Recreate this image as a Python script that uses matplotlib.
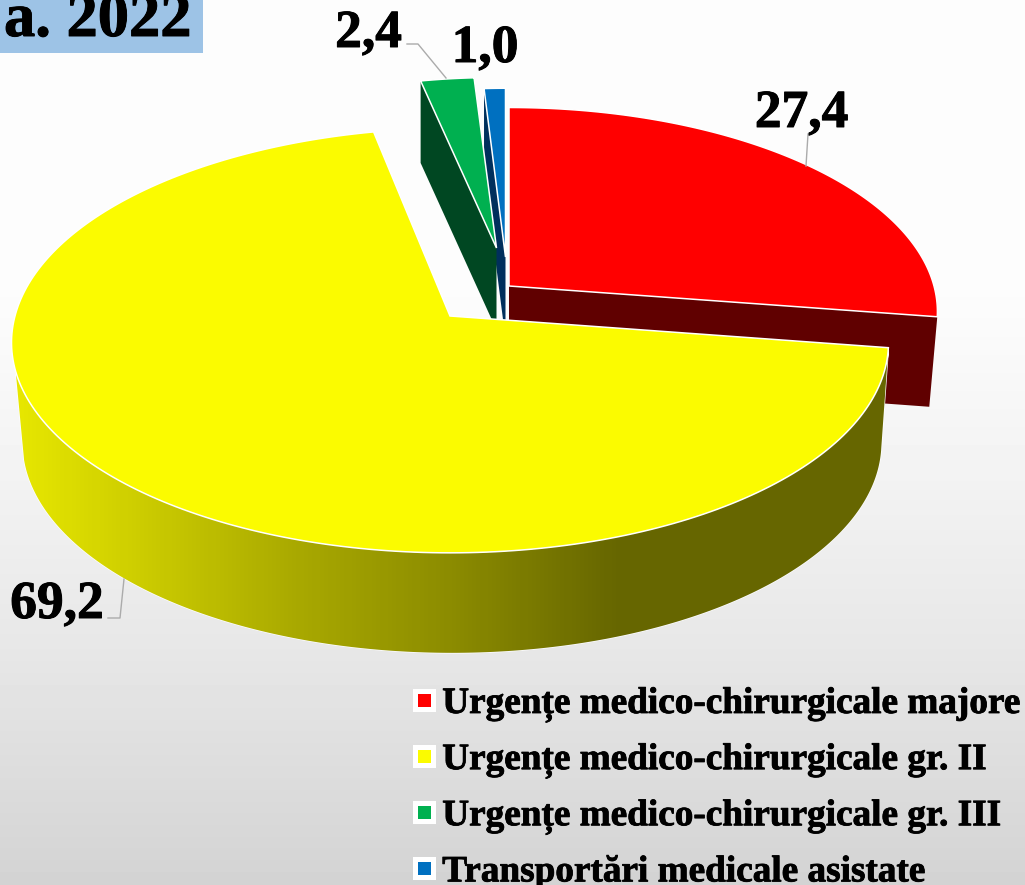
import numpy as np
import matplotlib
matplotlib.use("Agg")
import matplotlib.pyplot as plt
import matplotlib.patheffects as pe
from matplotlib.colors import LinearSegmentedColormap
from matplotlib.lines import Line2D
from matplotlib.patches import Polygon, Rectangle

plt.rcParams['font.family'] = ['Liberation Serif', 'DejaVu Serif']

categories = ["Urgențe medico-chirurgicale majore", "Urgențe medico-chirurgicale gr. II",
              "Urgențe medico-chirurgicale gr. III", "Transportări medicale asistate"]
values = [27.4, 69.2, 2.4, 1.0]
top_colors = ["#FF0000", "#FBFB00", "#00B050", "#0070C0"]
side_colors = ["#600000", "#666600", "#004722", "#002F5C"]
title = "a. 2022"

W, H = 1025, 885
fig = plt.figure(figsize=(W / 100, H / 100), dpi=100)
ax = fig.add_axes([0, 0, 1, 1])

# background
by = np.array([0, 300, 500, 650, 885])
bv = np.array([253, 252, 241, 231, 211]) / 255
grad = np.interp(np.arange(H), by, bv)[:, None]
ax.imshow(grad, cmap="gray", vmin=0, vmax=1, extent=[0, W, H, 0], aspect="auto", zorder=0)

# slice angles from the values (clockwise from 12 o'clock)
cum = np.cumsum([0] + values)
angles = 90 - cum * 3.6
K = 0.126


def ring(t0, t1, apex, R, c, n=240, up=1.0, skew=0.0):
    t = np.radians(np.linspace(t0, t1, n))
    x, y = np.cos(t), np.sin(t)
    w = 1 + K * y
    yy = np.where(y > 0, y * up, y)
    xs = np.where(y > 0, skew * y ** 2, 0.0)
    return np.column_stack([apex[0] + R * x / w + xs, apex[1] - c * yy / w])


def top_face(i, apex, R, c, z, **kw):
    pts = np.vstack([[apex], ring(angles[i], angles[i + 1], apex, R, c, **kw)])
    ax.add_patch(Polygon(pts, closed=True, fc=top_colors[i], ec="white", lw=1.1, zorder=z))
    return pts


def cut_face(p, apex, color, depth, z, shrink=0):
    q = np.array([p, apex, (apex[0], apex[1] + depth), (p[0] - shrink, p[1] + depth)])
    ax.add_patch(Polygon(q, closed=True, fc=color, ec="none", zorder=z))


# blue
a3 = (505.5, 257)
pb = ring(angles[3], angles[4], a3, 385, 190)
cut_face(pb[0], a3, side_colors[3], 82, 2)
top_face(3, a3, 385, 190, 3)
# green
a2 = (496.5, 248)
pg = ring(angles[2], angles[3], a2, 402, 192)
cut_face(pg[0], a2, side_colors[2], 82, 4)
top_face(2, a2, 402, 192, 5)
# red
a0 = (509, 286)
pr = ring(angles[0], angles[1], a0, 425, 201)
cut_face(pr[-1], a0, side_colors[0], 90, 6, shrink=8)
top_face(0, a0, 425, 201, 7)
# yellow
a1 = (450, 316)
a1b = (452, 416)
front = ring(angles[1], -165, a1, 435, 207)
back = ring(-168, angles[1], a1b, 426, 207)
side = Polygon(np.vstack([front, back]), closed=True, fc="none", ec="white", lw=1.0, zorder=8)
ax.add_patch(side)
gx = np.array([0, 120, 300, 450, 620, 1025])
gc = [(0.92, 0.92, 0), (0.82, 0.82, 0), (0.66, 0.66, 0), (0.55, 0.55, 0), (0.40, 0.40, 0), (0.40, 0.40, 0)]
cmap = LinearSegmentedColormap.from_list("side", list(zip(gx / 1025, gc)))
im = ax.imshow(np.linspace(0, 1, 1025)[None, :], cmap=cmap, vmin=0, vmax=1,
               extent=[0, W, H, 0], aspect="auto", zorder=8)
im.set_clip_path(side)
top_face(1, a1, 435, 207, 9, up=1.022, skew=6.0)

ax.set_xlim(0, W)
ax.set_ylim(H, 0)
ax.axis("off")

heavy = [pe.withStroke(linewidth=0.7, foreground="black")]

# title
ax.add_patch(Rectangle((0, 0), 203, 53, fc="#9DC3E6", ec="none", zorder=10))
ax.text(4, 36, title, fontsize=45, fontweight="bold", color="black", va="baseline", ha="left",
        zorder=11, clip_on=True, path_effects=heavy)

# data labels
lab = [f"{v:.1f}".replace(".", ",") for v in values]
lab_xy = [(801.5, 127), (57, 618), (368.5, 47), (485, 62)]
for s, (x, y) in zip(lab, lab_xy):
    ax.text(x, y, s, fontsize=38.5, fontweight="bold", ha="center", va="baseline", color="black",
            zorder=11, path_effects=heavy)

# leader lines
leaders = [[(808, 134), (806, 166)],
           [(108, 618), (120, 618), (124, 579)],
           [(407, 44), (418, 44), (446, 78)]]
for l in leaders:
    l = np.array(l)
    ax.plot(l[:, 0], l[:, 1], color="#ABABAB", lw=1.0, zorder=10)

# legend
handles = [Line2D([], [], ls="none", marker="s", ms=13.2, mew=3.6, mfc=c, mec="white") for c in top_colors]
leg = ax.legend(handles, categories, loc="upper left", bbox_to_anchor=(405, 686), bbox_transform=ax.transData,
                frameon=False, handlelength=1.0, handletextpad=0.0, labelspacing=0.53,
                borderpad=0, borderaxespad=0, prop={"weight": "bold", "size": 26.8})
for t in leg.get_texts():
    t.set_path_effects([pe.withStroke(linewidth=0.6, foreground="black")])

fig.savefig("out.png", dpi=100)
